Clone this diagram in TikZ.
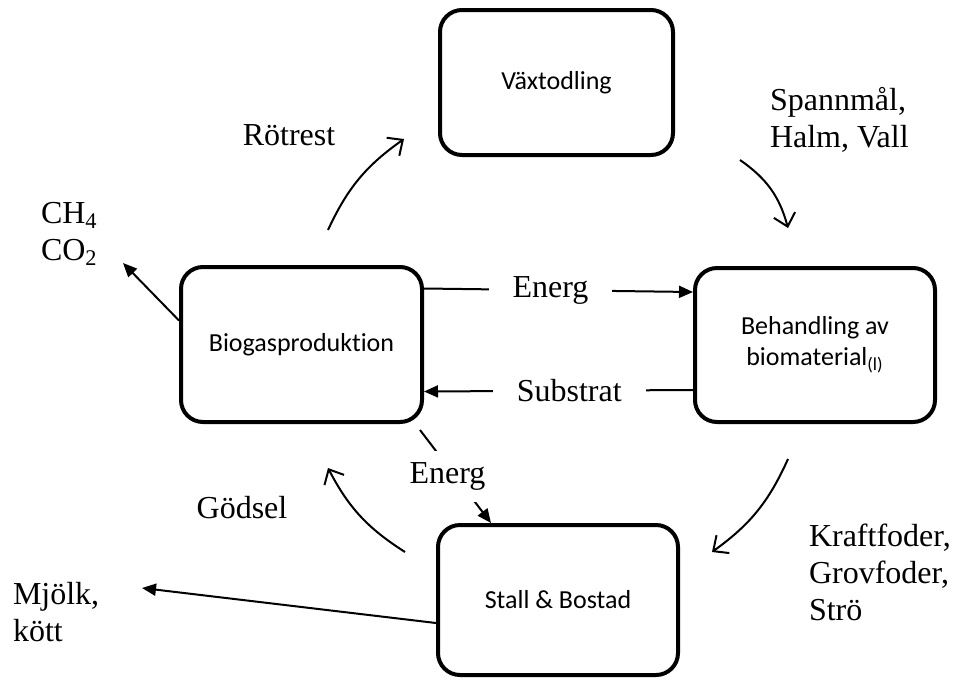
\documentclass[tikz,border=0pt]{standalone}
\usepackage{fontspec}
\setmainfont{Liberation Serif}
\newfontfamily\boxfont{Carlito}[Ligatures=NoCommon]
\usetikzlibrary{arrows.meta}

\begin{document}
\begin{tikzpicture}[x=0.5pt,y=-0.5pt,line width=1pt,
                box/.style={draw,line width=2pt,rounded corners=11pt,align=center,font=\boxfont\fontsize{13}{15.5}\selectfont},
                lbl/.style={inner sep=0pt,align=left,font=\fontsize{16}{18.5}\selectfont},
                gap/.style={lbl,fill=white,inner xsep=12pt,inner ysep=3pt},
                flow/.style={-{Straight Barb[length=6pt,width=11pt]},bend left=15},
                outflow/.style={-{Triangle[length=7pt,width=6pt]}}]
                \useasboundingbox (0,0) rectangle (953,681);
                \node[box,minimum width=116.5pt,minimum height=72.5pt] (vx) at (556.5,82.5) {Växtodling};
                \node[box,minimum width=120.5pt,minimum height=77.5pt] (bio) at (301.5,344.5) {Biogasproduktion};
                \node[box,minimum width=120pt,minimum height=77pt] (beh) at (815,345) {Behandling av\\biomaterial\textsubscript{(l)}};
                \node[box,minimum width=120pt,minimum height=75pt] (stall) at (558,600) {Stall \& Bostad};
                \node[lbl] (rot) at (289,135) {Rötrest};
                \node[lbl,anchor=west] (spm) at (769,120) {Spannmål,\\Halm, Vall};
                \node[lbl,anchor=west] (kraft) at (808,572) {Kraftfoder,\\Grovfoder,\\Strö};
                \node[lbl] (gods) at (242,508) {Gödsel};
                \node[lbl,anchor=west] (mjolk) at (12,612) {Mjölk,\\kött};
                \node[lbl,anchor=west] (gas) at (40,234) {CH\textsubscript{4}\\CO\textsubscript{2}};
                \coordinate (r1) at (328,230);
                \coordinate (r2) at (404,139);
                \coordinate (s1) at (740,160);
                \coordinate (s2) at (788,228);
                \coordinate (k1) at (788,459);
                \coordinate (k2) at (712,552);
                \coordinate (g1) at (405,552);
                \coordinate (g2) at (328,468);
                \coordinate (mtip) at (142,588);
                \coordinate (gtip) at (123,263);
                \draw[flow] (r1) to (r2);
                \draw[flow,bend left=20] (s1) to (s2);
                \draw[flow] (k1) to (k2);
                \draw[flow] (g1) to (g2);
                \draw[outflow] ([yshift=28pt]bio.east) -- node[gap,pos=0.47] {Energ} ([yshift=26.5pt]beh.west);
                \draw[outflow] ([yshift=-22.5pt]beh.west) -- node[gap,pos=0.46] {Substrat} ([yshift=-23.5pt]bio.east);
                \draw[outflow] ([shift={(-2pt,-3pt)}]bio.south east) -- node[gap,inner xsep=2pt,inner ysep=6pt,xshift=-4pt] {Energ} ([xshift=27.5pt]stall.north west);
                \draw[outflow] ([yshift=-11.5pt]stall.west) -- (mtip);
                \draw[outflow] ([yshift=12pt]bio.west) -- (gtip);
\end{tikzpicture}
\end{document}
